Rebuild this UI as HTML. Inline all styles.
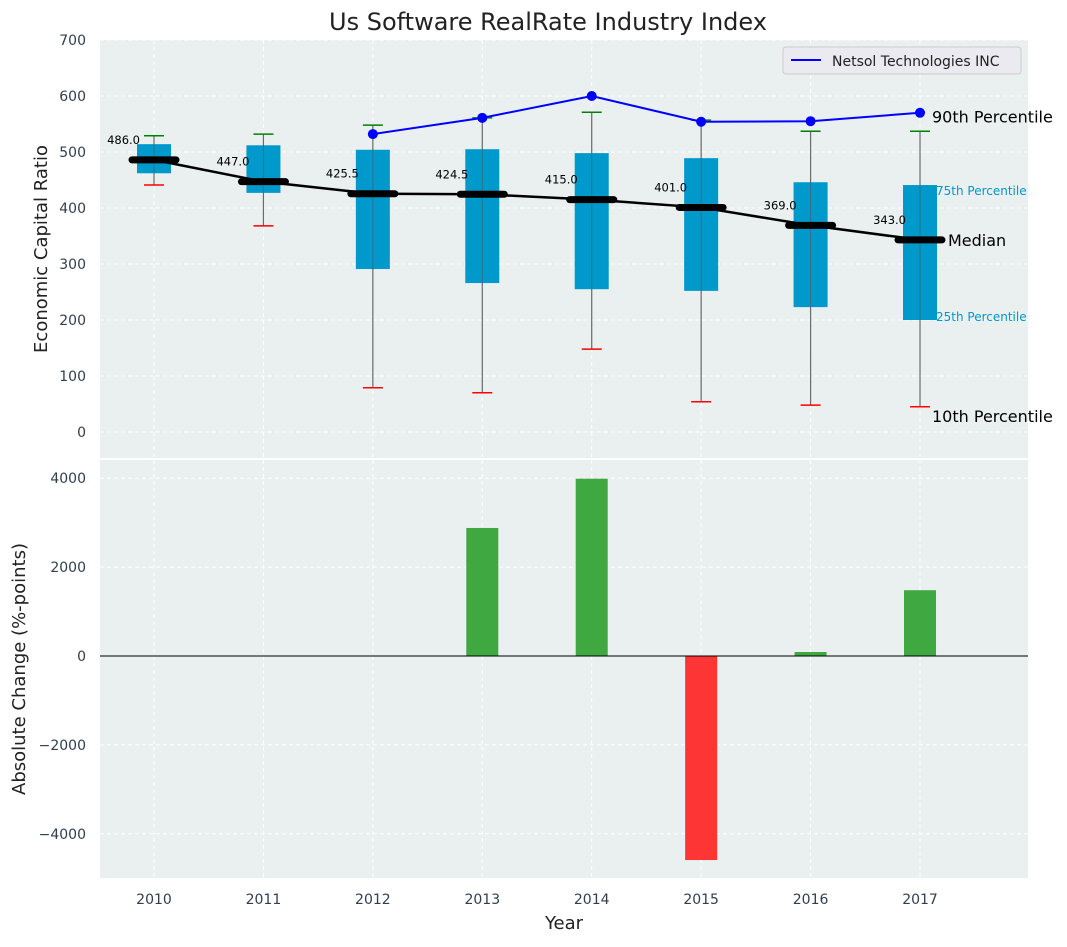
<!DOCTYPE html>
<html><head><meta charset="utf-8"><style>
body{margin:0;background:#fff;font-family:"Liberation Sans","DejaVu Sans",sans-serif}
svg text{font-family:"DejaVu Sans","Liberation Sans",sans-serif}
</style></head><body>
<svg id="chart" width="1067" height="942" viewBox="0 0 1067 942" xmlns="http://www.w3.org/2000/svg">
<text x="548" y="30" font-size="24" text-anchor="middle" fill="#222">Us Software RealRate Industry Index</text>
<rect x="100" y="40" width="928" height="418" fill="#eaeff0"/>
<rect x="100" y="460" width="928" height="418" fill="#eaeff0"/>
<g id="grid"></g><g id="marks"></g><g id="axes"></g>
<text transform="translate(47,249) rotate(-90)" font-size="18" text-anchor="middle" fill="#222">Economic Capital Ratio</text>
<text transform="translate(25,669) rotate(-90)" font-size="18" text-anchor="middle" fill="#222">Absolute Change (%-points)</text>
<text x="564" y="929" font-size="18" text-anchor="middle" fill="#222">Year</text>
<g>
<rect x="783" y="47" width="238" height="27" rx="3" fill="#eaeaf0" stroke="#ccc"/>
<line x1="791" y1="60" x2="821" y2="60" stroke="#0000ff" stroke-width="2"/>
<text x="832" y="66" font-size="14" fill="#222">Netsol Technologies INC</text>
</g>
</svg>
<script>
const years=[2010,2011,2012,2013,2014,2015,2016,2017];
const p10=[441,368,79,70,148,54,48,45];
const p25=[462,427,291,266,255,252,223,200];
const median=[486,447,425.5,424.5,415,401,369,343];
const p75=[514,512,504,505,498,489,446,441];
const p90=[529,532,548,561,571,557,537,537];
const netsol=[null,null,532,561,600,554,555,570];
const changes=[0,0,0,2880,3990,-4590,90,1480];
const topTicks=[0,100,200,300,400,500,600,700];
const botTicks=[-4000,-2000,0,2000,4000];
const NS='http://www.w3.org/2000/svg';
const X=i=>154+i*109.43;
const YT=v=>432-v*0.56;
const YB=v=>656-v*0.04445;
function mk(p,tag,at,txt){const e=document.createElementNS(NS,tag);for(const k in at)e.setAttribute(k,at[k]);if(txt!=null)e.textContent=txt;p.appendChild(e);return e;}
const grid=document.getElementById('grid'),marks=document.getElementById('marks'),axes=document.getElementById('axes');
topTicks.forEach(t=>{const g=mk(grid,'line',{x1:100,x2:1028,y1:YT(t),y2:YT(t),stroke:'#fff','stroke-dasharray':'4,3'});

const l=mk(axes,'text',{x:86,y:YT(t)+5,'font-size':14,'text-anchor':'end',fill:'#2f3e50'},t);
});
botTicks.forEach(t=>{const g=mk(grid,'line',{x1:100,x2:1028,y1:YB(t),y2:YB(t),stroke:'#fff','stroke-dasharray':'4,3'});

const l=mk(axes,'text',{x:86,y:YB(t)+5,'font-size':14,'text-anchor':'end',fill:'#2f3e50'},t<0?'\u2212'+(-t):t);
});
years.forEach((y,i)=>{[[40,458],[460,878]].forEach(r=>{const g=mk(grid,'line',{x1:X(i),x2:X(i),y1:r[0],y2:r[1],stroke:'#fff','stroke-dasharray':'4,3'});
});
const l=mk(axes,'text',{x:X(i),y:904,'font-size':14,'text-anchor':'middle',fill:'#2f3e50'},y);
});
years.forEach((y,i)=>{const x=X(i);
const w=mk(marks,'line',{x1:x,x2:x,y1:YT(p90[i]),y2:YT(p10[i]),stroke:'#888','stroke-width':1.2});

const b=mk(marks,'rect',{x:x-17,y:YT(p75[i]),width:34,height:YT(p25[i])-YT(p75[i]),fill:'#0099cc'});

const w2=mk(marks,'line',{x1:x,x2:x,y1:YT(p90[i]),y2:YT(p10[i]),stroke:'#555','stroke-width':1,opacity:0.6});

const c1=mk(marks,'line',{x1:x-10,x2:x+10,y1:YT(p90[i]),y2:YT(p90[i]),stroke:'green','stroke-width':1.5});

const c2=mk(marks,'line',{x1:x-10,x2:x+10,y1:YT(p10[i]),y2:YT(p10[i]),stroke:'red','stroke-width':1.5});
});
const mp=mk(marks,'polyline',{points:median.map((v,i)=>X(i)+','+YT(v)).join(' '),fill:'none',stroke:'#000','stroke-width':2.5});

median.forEach((v,i)=>{const m=mk(marks,'line',{x1:X(i)-22,x2:X(i)+22,y1:YT(v),y2:YT(v),stroke:'#000','stroke-width':7,'stroke-linecap':'round'});

const t=mk(marks,'text',{x:X(i)-14,y:YT(v)-16,'font-size':11.5,'text-anchor':'end',fill:'#000'},v.toFixed(1));
});
const pts=netsol.map((v,i)=>v==null?null:X(i)+','+YT(v)).filter(p=>p);
const nl=mk(marks,'polyline',{points:pts.join(' '),fill:'none',stroke:'#0000ff','stroke-width':2});

netsol.forEach((v,i)=>{if(v==null)return;const c=mk(marks,'circle',{cx:X(i),cy:YT(v),r:5,fill:'#0000ff'});
});
changes.forEach((v,i)=>{if(v===0)return;const r=mk(marks,'rect',{x:X(i)-16,y:Math.min(YB(v),YB(0)),width:32,height:Math.abs(YB(v)-YB(0)),fill:v>0?'#2ca02c':'#ff2020',opacity:0.9});
});
const z=mk(marks,'line',{x1:100,x2:1028,y1:YB(0),y2:YB(0),stroke:'#000','stroke-width':1});

const L=7,lx=X(L);
[['90th Percentile',YT(p90[L])-9,16,'#000',12],['75th Percentile',YT(p75[L])+10,12,'#0099cc',16],['Median',YT(median[L])+6,16,'#000',28],['25th Percentile',YT(p25[L])+1,12,'#0099cc',16],['10th Percentile',YT(p10[L])+15,16,'#000',12]].forEach(a=>{
const t=mk(marks,'text',{x:lx+a[4],y:a[1],'font-size':a[2],fill:a[3]},a[0]);
});
</script>
</body></html>
